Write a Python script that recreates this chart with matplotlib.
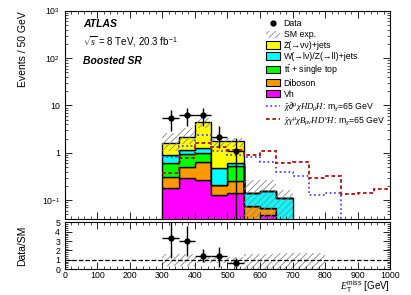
import numpy as np
import matplotlib
matplotlib.use("Agg")
import matplotlib.pyplot as plt
from matplotlib.ticker import FixedLocator, LogLocator, FuncFormatter, MultipleLocator
from matplotlib.patches import Patch
from matplotlib.lines import Line2D

plt.rcParams['font.family'] = ['Liberation Sans', 'DejaVu Sans']
plt.rcParams['mathtext.fontset'] = 'custom'
plt.rcParams['mathtext.rm'] = 'Liberation Sans'
plt.rcParams['mathtext.it'] = 'Liberation Serif:italic'

# Background stack, 50 GeV bins from 300 to 700
edges = np.arange(300, 701, 50)
vh      = [0.177, 0.289, 0.27, 0.128, 0.14, 0.02, 0.048, 0.0]
diboson = [0.123, 0.221, 0.38, 0.082, 0.11, 0.054, 0.018, 0.0]
top     = [0.30, 0.43, 0.35, 0.0, 0.27, 0.0, 0.0, 0.0]
wz      = [0.306, 0.22, 0.25, 0.26, 0.10, 0.064, 0.089, 0.109]
znn     = [0.70, 1.0, 3.25, 1.27, 1.12, 0.0, 0.0, 0.0]

# SM uncertainty band
band_up   = [2.6, 3.35, 5.5, 2.1, 2.1, 0.27, 0.27, 0.16]
band_down = [1.07, 1.5, 3.3, 1.3, 1.3, 0.01, 0.01, 0.01]

# Data
data_x = [325, 375, 425, 475, 525]
data_y = [5.37, 6.44, 6.44, 2.16, 1.1]
data_lo = [2.43, 2.84, 2.84, 0.9, 1.1]
data_hi = [2.83, 2.46, 2.46, 1.44, 0.95]

# Signals, 300 to 1000
sig_edges = np.arange(300, 1001, 50)
sig_blue = [0.83, 1.36, 2.33, 1.1, 0.9, 0.8, 0.65, 0.40, 0.33, 0.13, 0.14, 1e-4, 1e-4, 1e-4]
sig_red  = [0.37, 0.78, 1.58, 1.35, 1.15, 0.9, 1.1, 0.62, 0.64, 0.29, 0.33, 0.134, 0.14, 0.17]

# Ratio panel
ratio_y  = [3.33, 3.0, 1.45, 1.35, 0.62]
ratio_lo = [2.1, 1.6, 0.65, 1.15, 0.62]
ratio_hi = [1.7, 1.6, 0.65, 1.05, 0.55]
ratio_edges = np.arange(300, 801, 50)
ratio_band_up   = [1.6, 1.6, 1.3, 1.3, 1.3, 1.6, 1.6, 1.7, 1.7, 1.7]
ratio_band_down = [0.3, 0.3, 0.6, 0.6, 0.6, 0.05, 0.05, 0.0, 0.0, 0.0]

fig = plt.figure(figsize=(4.11, 2.95), dpi=100)
ax = fig.add_axes([0.158, 0.258, 0.791, 0.705])
rax = fig.add_axes([0.158, 0.088, 0.791, 0.158])

components = [(vh, '#ff00ff', 'Vh'), (diboson, '#ff9900', 'Diboson'),
              (top, '#00ff00', r'$\mathrm{t\bar{t}}$ + single top'),
              (wz, '#00ffff', 'W(→lν)/Z(→ll)+jets'),
              (znn, '#ffff00', 'Z(→νν)+jets')]
bottom = np.full(len(vh), 1e-3)
for vals, col, lab in components:
    topv = bottom + np.array(vals)
    ax.stairs(topv, edges, baseline=bottom, fill=True, facecolor=col,
              edgecolor='black', lw=1.0)
    bottom = topv

plt.rcParams['hatch.color'] = '#888888'
plt.rcParams['hatch.linewidth'] = 0.6
ax.stairs(band_up, edges, baseline=band_down, fill=True, facecolor='none',
          hatch='/////', lw=0)

ax.stairs(sig_blue, sig_edges, baseline=None, color='#3333ff', ls=':', lw=1.2)
ax.stairs(sig_red, sig_edges, baseline=None, color='#b01010', ls=(0, (2, 1.5)), lw=1.3)

ax.errorbar(data_x, data_y, yerr=[data_lo, data_hi], xerr=25, fmt='o',
            color='black', ms=3.5, lw=1, capsize=0)

ax.set_yscale('log')
ax.set_xlim(0, 1000)
ax.set_ylim(0.04, 1000)
ax.set_ylabel('Events / 50 GeV', fontsize=7.5, loc='top')
ax.yaxis.set_major_locator(FixedLocator([0.1, 1, 10, 100, 1000]))
ax.yaxis.set_minor_locator(LogLocator(base=10, subs=np.arange(2, 10), numticks=20))
ylabels = {0.1: r'$10^{-1}$', 1: '1', 10: '10', 100: r'$10^{2}$', 1000: r'$10^{3}$'}
ax.yaxis.set_major_formatter(FuncFormatter(lambda v, p: ylabels.get(round(v, 3), '')))
ax.yaxis.set_minor_formatter(FuncFormatter(lambda v, p: ''))
ax.set_xticklabels([])

for a in (ax, rax):
    a.xaxis.set_major_locator(MultipleLocator(100))
    a.xaxis.set_minor_locator(MultipleLocator(20))
    a.tick_params(which='both', direction='in', top=True, right=True, labelsize=6.3)
    a.tick_params(which='major', length=5, width=0.6)
    a.tick_params(which='minor', length=2.5, width=0.5)
    for s in a.spines.values():
        s.set_linewidth(0.8)
rax.tick_params(axis='x', pad=1.5)

ax.text(0.055, 0.925, 'ATLAS', transform=ax.transAxes, fontsize=7.5,
        fontweight='bold', style='italic')
ax.text(0.055, 0.835, r'$\sqrt{s}$ = 8 TeV, 20.3 fb$^{-1}$', transform=ax.transAxes, fontsize=7)
ax.text(0.055, 0.745, 'Boosted SR', transform=ax.transAxes, fontsize=7.5,
        fontweight='bold', style='italic')

handles = [Line2D([], [], marker='o', color='black', ls='none', ms=3.5),
           Patch(facecolor='none', edgecolor='#888888', hatch='/////', lw=0)]
labels = ['Data', 'SM exp.']
for vals, col, lab in components[::-1]:
    handles.append(Patch(facecolor=col, edgecolor='black', lw=0.8))
    labels.append(lab)
handles.append(Line2D([], [], color='#3333ff', ls=':', lw=1.2))
labels.append(r'$\bar{\chi}\partial^{\mu}\chi HD_{\mu}H$: m$_{\chi}$=65 GeV')
handles.append(Line2D([], [], color='#b01010', ls=(0, (2, 1.5)), lw=1.3))
labels.append(r'$\bar{\chi}\gamma^{\mu}\chi B_{\mu\nu}HD^{\nu}H$: m$_{\chi}$=65 GeV')
ax.legend(handles, labels, loc='upper right', bbox_to_anchor=(1.0, 0.985), fontsize=6.3,
          frameon=False, handlelength=1.6, handleheight=0.9, labelspacing=0.22,
          handletextpad=0.4, borderaxespad=0.2)

# ratio panel
rax.stairs(ratio_band_up, ratio_edges, baseline=ratio_band_down, fill=True,
           facecolor='none', hatch='/////', lw=0)
rax.axhline(1, color='black', ls='--', lw=0.9)
rax.errorbar(data_x, ratio_y, yerr=[ratio_lo, ratio_hi], xerr=25, fmt='o',
             color='black', ms=3.5, lw=1, capsize=0)
rax.set_xlim(0, 1000)
rax.set_ylim(0, 5)
rax.yaxis.set_major_locator(MultipleLocator(1))
rax.yaxis.set_minor_locator(MultipleLocator(0.2))
rax.set_ylabel('Data/SM', fontsize=7.5)
rax.set_xlabel(r'$E_{\mathrm{T}}^{\mathrm{miss}}$ [GeV]', fontsize=7, ha='right')
rax.xaxis.set_label_coords(1.0, -0.21)
ax.yaxis.set_label_coords(-0.115, 1.0)
rax.yaxis.set_label_coords(-0.115, 0.5)

fig.savefig('out.png', dpi=100)
